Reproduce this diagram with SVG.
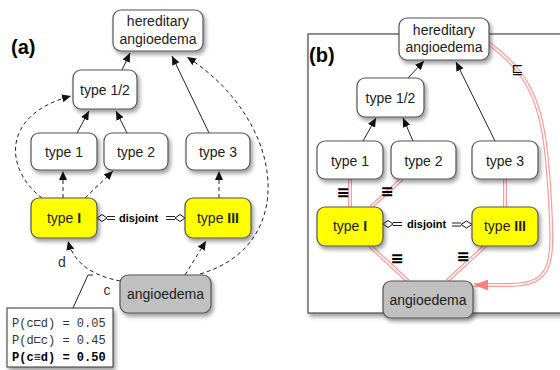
<svg xmlns="http://www.w3.org/2000/svg" width="560" height="370" viewBox="0 0 560 370">
<style>
.box{stroke:#555;stroke-width:1.2;fill:#fff}
.yel{fill:#ffff00}
.gry{fill:#c0c0c0}
.t{font-family:"Liberation Sans",Arial,sans-serif;font-size:14px;fill:#222;text-anchor:middle}
.lbl{font-family:"Liberation Sans",Arial,sans-serif;font-size:20px;font-weight:bold;fill:#000}
.dj{font-family:"Liberation Sans",Arial,sans-serif;font-size:11px;font-weight:bold;fill:#000}
.sol{stroke:#222;stroke-width:1;fill:none}
.dsh{stroke:#222;stroke-width:1;fill:none;stroke-dasharray:4,3}
.po{stroke:#ff9a9a;stroke-width:4;fill:none}
.pi{stroke:#fff;stroke-width:1.6;fill:none}
.eq{font-family:"DejaVu Sans",sans-serif;font-size:16px;font-weight:bold;fill:#000;text-anchor:middle}
.mono{font-family:"Liberation Mono","DejaVu Sans Mono",monospace;font-size:12px;fill:#333}
</style>
<defs>
<filter id="sh" x="-20%" y="-20%" width="150%" height="160%">
<feGaussianBlur in="SourceAlpha" stdDeviation="2"/>
<feOffset dx="1.5" dy="3" result="b"/>
<feComponentTransfer><feFuncA type="linear" slope="0.4"/></feComponentTransfer>
<feMerge><feMergeNode/><feMergeNode in="SourceGraphic"/></feMerge>
</filter>
<marker id="arr" markerUnits="userSpaceOnUse" markerWidth="9" markerHeight="8" refX="9" refY="4" orient="auto">
<path d="M0,0 L9,4 L0,8 z" fill="#111"/>
</marker>
<marker id="parr" markerUnits="userSpaceOnUse" markerWidth="14" markerHeight="11" refX="14" refY="5.5" orient="auto">
<path d="M0,0 L14,5.5 L0,11 z" fill="#ff8080"/>
</marker>
</defs>

<rect width="560" height="370" fill="#fff"/>

<!-- panel b frame -->
<rect id="frameB" x="308" y="34" width="262" height="279" fill="#fff" stroke="#555" stroke-width="1.3" filter="url(#sh)"/>

<text class="lbl" x="11" y="54">(a)</text>
<text class="lbl" x="309" y="62">(b)</text>

<!-- connectors -->
<g id="connectors">
<!-- panel a solid -->
<line class="sol" x1="122" y1="70" x2="130" y2="53" marker-end="url(#arr)"/>
<line class="sol" x1="209" y1="133" x2="172" y2="56" marker-end="url(#arr)"/>
<line class="sol" x1="77" y1="133" x2="89" y2="111" marker-end="url(#arr)"/>
<line class="sol" x1="127" y1="133" x2="116" y2="111" marker-end="url(#arr)"/>
<!-- panel a dashed -->
<line class="dsh" x1="63" y1="198" x2="63" y2="171" marker-end="url(#arr)"/>
<line class="dsh" x1="85" y1="198" x2="113" y2="171" marker-end="url(#arr)"/>
<path class="dsh" d="M42,198 C5,170 0,115 71,96" marker-end="url(#arr)"/>
<line class="dsh" x1="219" y1="198" x2="219" y2="171" marker-end="url(#arr)"/>
<path class="dsh" d="M120,281 C100,277 75,268 68,241" marker-end="url(#arr)"/>
<line class="dsh" x1="185" y1="275" x2="206" y2="241" marker-end="url(#arr)"/>
<path class="dsh" d="M200,274 C300,245 285,120 187,57" marker-end="url(#arr)"/>
<!-- annotation -->
<line class="sol" x1="73" y1="308" x2="88" y2="275"/>
<line class="sol" x1="88" y1="275" x2="93" y2="275"/>
<text class="t" x="62" y="267" style="fill:#333">d</text>
<text class="t" x="107" y="295" style="fill:#333">c</text>
<!-- disjoint a -->
<polygon points="97,218 102,214.5 107,218 102,221.5" fill="#fff" stroke="#111" stroke-width="1"/>
<line class="sol" x1="107" y1="216.5" x2="115" y2="216.5"/>
<line class="sol" x1="107" y1="219.5" x2="115" y2="219.5"/>
<text class="dj" x="119" y="222">disjoint</text>
<line class="sol" x1="166" y1="216.5" x2="175" y2="216.5"/>
<line class="sol" x1="166" y1="219.5" x2="175" y2="219.5"/>
<polygon points="175,218 180,214.5 185,218 180,221.5" fill="#fff" stroke="#111" stroke-width="1"/>

<!-- panel b solid -->
<line class="sol" x1="408" y1="78" x2="424" y2="61" marker-end="url(#arr)"/>
<line class="sol" x1="495" y1="141" x2="456" y2="62" marker-end="url(#arr)"/>
<line class="sol" x1="363" y1="141" x2="376" y2="118" marker-end="url(#arr)"/>
<line class="sol" x1="413" y1="141" x2="403" y2="118" marker-end="url(#arr)"/>
<!-- panel b pink double -->
<g>
<line class="po" x1="350" y1="179" x2="350" y2="207"/>
<line class="pi" x1="350" y1="179" x2="350" y2="207"/>
<line class="po" x1="402" y1="179" x2="371" y2="207"/>
<line class="pi" x1="402" y1="179" x2="371" y2="207"/>
<line class="po" x1="505" y1="179" x2="505" y2="207"/>
<line class="pi" x1="505" y1="179" x2="505" y2="207"/>
<line class="po" x1="370" y1="246" x2="408" y2="281"/>
<line class="pi" x1="370" y1="246" x2="408" y2="281"/>
<line class="po" x1="485" y1="246" x2="447" y2="281"/>
<line class="pi" x1="485" y1="246" x2="447" y2="281"/>
<path class="po" d="M488,43 C540,80 545,120 550,200 C553,260 555,285 510,285 L474,285"/>
<path class="pi" d="M488,43 C540,80 545,120 550,200 C553,260 555,285 510,285 L474,285" marker-end="url(#parr)"/>
</g>
<text class="eq" x="343" y="198">≡</text>
<text class="eq" x="387" y="197">≡</text>
<text class="eq" x="397" y="264">≡</text>
<text class="eq" x="463" y="262">≡</text>
<text x="517" y="74" style="font-family:'DejaVu Sans',sans-serif;font-size:14px;fill:#000;text-anchor:middle">⊑</text>
<!-- disjoint b -->
<polygon points="383,224 388,220.5 393,224 388,227.5" fill="#fff" stroke="#111" stroke-width="1"/>
<line class="sol" x1="393" y1="222.5" x2="402" y2="222.5"/>
<line class="sol" x1="393" y1="225.5" x2="402" y2="225.5"/>
<text class="dj" x="407" y="228">disjoint</text>
<line class="sol" x1="452" y1="223" x2="461" y2="223"/>
<line class="sol" x1="452" y1="226" x2="461" y2="226"/>
<polygon points="461,224.5 466.5,221 472,224.5 466.5,228" fill="#fff" stroke="#111" stroke-width="1"/>
</g>

<!-- panel a nodes -->
<g id="a_hered"><rect class="box" x="113" y="10" width="90" height="41" rx="8" filter="url(#sh)"/><text class="t" x="158" y="26">hereditary</text><text class="t" x="158" y="44">angioedema</text></g>
<g id="a_type12"><rect class="box" x="73" y="70" width="64" height="39" rx="8" filter="url(#sh)"/><text class="t" x="105" y="95">type 1/2</text></g>
<g id="a_type1"><rect class="box" x="31" y="133" width="66" height="37" rx="8" filter="url(#sh)"/><text class="t" x="64" y="157">type 1</text></g>
<g id="a_type2"><rect class="box" x="104" y="133" width="64" height="37" rx="8" filter="url(#sh)"/><text class="t" x="136" y="157">type 2</text></g>
<g id="a_type3"><rect class="box" x="186" y="133" width="64" height="37" rx="8" filter="url(#sh)"/><text class="t" x="218" y="157">type 3</text></g>
<g id="a_typeI"><rect class="box yel" x="31" y="198" width="66" height="40" rx="8" filter="url(#sh)"/><text class="t" x="64" y="223">type <tspan font-weight="bold">I</tspan></text></g>
<g id="a_typeIII"><rect class="box yel" x="185" y="198" width="66" height="40" rx="8" filter="url(#sh)"/><text class="t" x="218" y="223">type <tspan font-weight="bold">III</tspan></text></g>
<g id="a_angio"><rect class="box gry" x="120" y="275" width="91" height="38" rx="8" filter="url(#sh)"/><text class="t" x="165.5" y="299">angioedema</text></g>
<g id="a_prob"><rect x="7" y="308" width="106" height="59" fill="#fff" stroke="#333" stroke-width="1" filter="url(#sh)"/>
<text class="mono" x="12" y="327">P(c⊏d) = 0.05</text>
<text class="mono" x="12" y="344">P(d⊏c) = 0.45</text>
<text class="mono" x="12" y="361" style="font-weight:bold;fill:#000">P(c≡d) = 0.50</text></g>

<!-- panel b nodes -->
<g id="b_hered"><rect class="box" x="399" y="18" width="90" height="42" rx="8" filter="url(#sh)"/><text class="t" x="444" y="35">hereditary</text><text class="t" x="444" y="52">angioedema</text></g>
<g id="b_type12"><rect class="box" x="357" y="78" width="67" height="39" rx="8" filter="url(#sh)"/><text class="t" x="390.5" y="103">type 1/2</text></g>
<g id="b_type1"><rect class="box" x="317" y="141" width="66" height="38" rx="8" filter="url(#sh)"/><text class="t" x="350" y="166">type 1</text></g>
<g id="b_type2"><rect class="box" x="391" y="141" width="65" height="38" rx="8" filter="url(#sh)"/><text class="t" x="423.5" y="166">type 2</text></g>
<g id="b_type3"><rect class="box" x="472" y="141" width="66" height="38" rx="8" filter="url(#sh)"/><text class="t" x="505" y="166">type 3</text></g>
<g id="b_typeI"><rect class="box yel" x="317" y="207" width="66" height="39" rx="8" filter="url(#sh)"/><text class="t" x="350" y="231">type <tspan font-weight="bold">I</tspan></text></g>
<g id="b_typeIII"><rect class="box yel" x="472" y="207" width="66" height="39" rx="8" filter="url(#sh)"/><text class="t" x="505" y="231">type <tspan font-weight="bold">III</tspan></text></g>
<g id="b_angio"><rect class="box gry" x="383" y="281" width="90" height="37" rx="8" filter="url(#sh)"/><text class="t" x="428" y="305">angioedema</text></g>
</svg>
